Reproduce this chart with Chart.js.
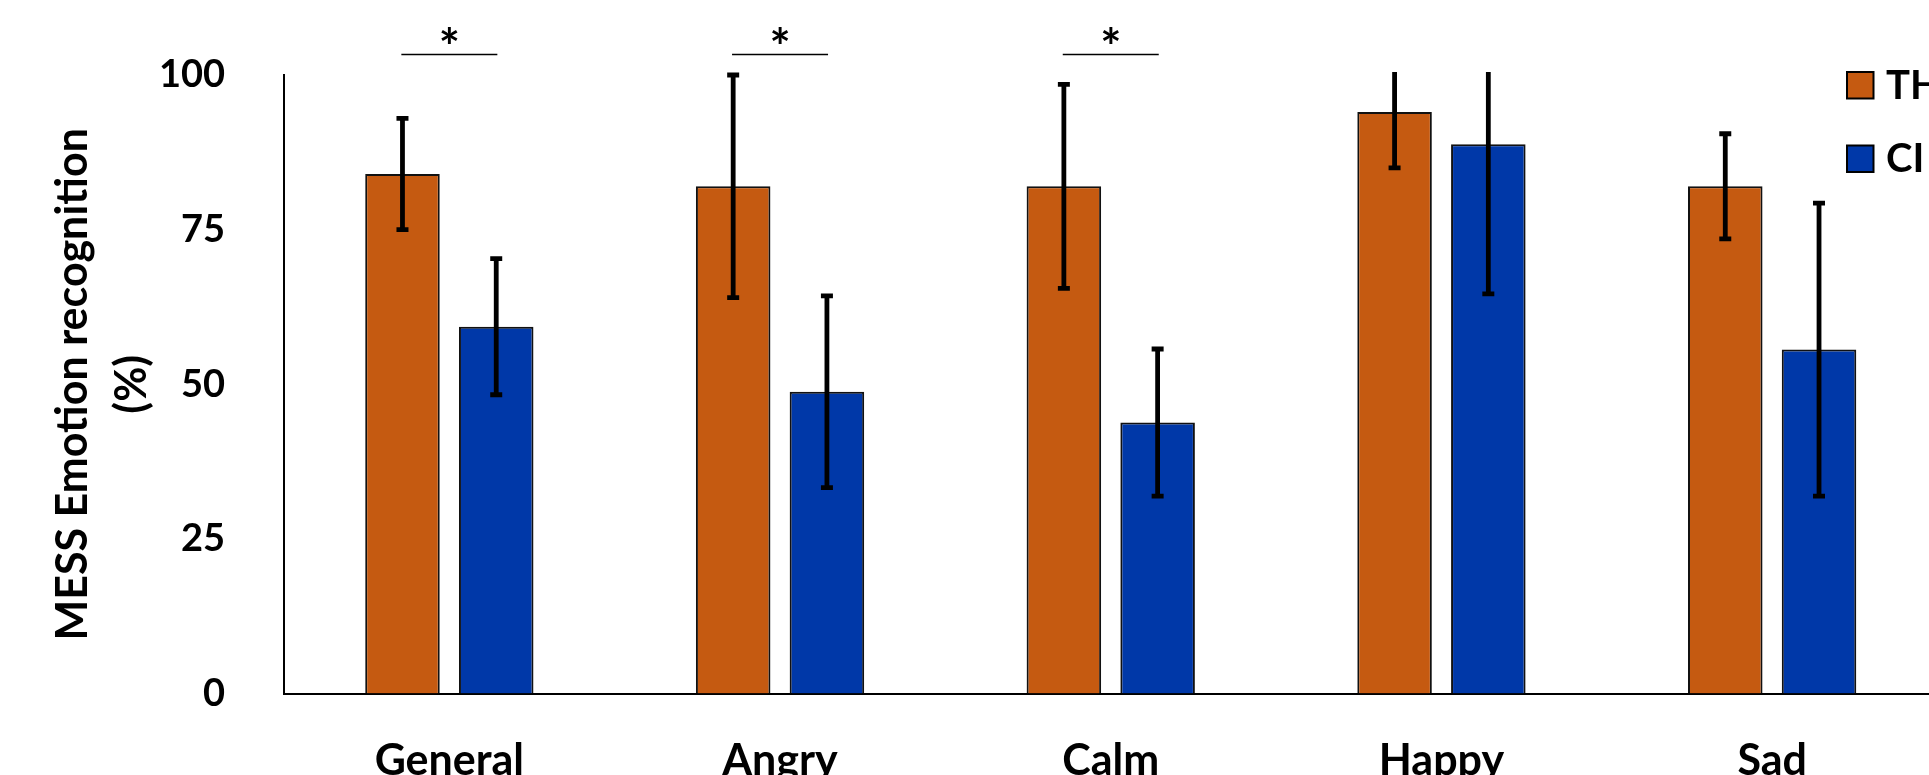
<!DOCTYPE html>
<html>
<head>
<meta charset="utf-8">
<script src="https://cdn.jsdelivr.net/npm/chart.js@4.4.1/dist/chart.umd.min.js"></script>
<style>
  html, body { margin: 0; padding: 0; background: #fff; overflow: hidden; }
  #wrap { width: 1960px; height: 775px; }
</style>
</head>
<body>
<div id="wrap"><canvas id="myChart" width="1960" height="775"></canvas></div>
<script>
// categories on the x axis
const categories = ['General', 'Angry', 'Calm', 'Happy', 'Sad'];
// group means and error bar half-lengths (%)
const thMeans = [84, 82, 82, 94, 82];
const thErrors = [9, 18, 16.5, 9, 8.5];
const ciMeans = [59.3, 48.8, 43.8, 88.8, 55.6];
const ciErrors = [11, 15.5, 11.9, 24.2, 23.7];
// y axis ticks
const yTicks = [0, 25, 50, 75, 100];
// categories marked with a star
const significant = ['General', 'Angry', 'Calm'];

Chart.defaults.font.family = 'Lato';
Chart.defaults.color = '#000';

// draws the whiskers on top of each bar
const errorBars = {
    id: 'errorBars',
    afterDatasetsDraw(chart) {
        const {ctx, chartArea, scales: {y}} = chart;
        ctx.save();
        ctx.beginPath();
        ctx.rect(chartArea.left, chartArea.top - 3, chartArea.width, chartArea.height + 3);
        ctx.clip();
        ctx.strokeStyle = '#000';
        ctx.lineWidth = 4.8;
        chart.data.datasets.forEach((ds, di) => {
            chart.getDatasetMeta(di).data.forEach((bar, i) => {
                const hi = y.getPixelForValue(ds.data[i] + ds.errors[i]);
                const lo = y.getPixelForValue(ds.data[i] - ds.errors[i]);
                ctx.beginPath();
                ctx.moveTo(bar.x, hi); ctx.lineTo(bar.x, lo);
                ctx.moveTo(bar.x - 6, hi); ctx.lineTo(bar.x + 6, hi);
                ctx.moveTo(bar.x - 6, lo); ctx.lineTo(bar.x + 6, lo);
                ctx.stroke();
            });
        });
        ctx.restore();
    }
};

// significance line + star above the pair
const sigMarks = {
    id: 'sigMarks',
    afterDraw(chart) {
        const {ctx, chartArea, scales: {x}} = chart;
        ctx.save();
        ctx.strokeStyle = '#000';
        ctx.lineWidth = 1.5;
        ctx.fillStyle = '#000';
        ctx.font = 'bold 50px Lato';
        ctx.textAlign = 'center';
        ctx.textBaseline = 'alphabetic';
        significant.forEach(cat => {
            const cx = x.getPixelForValue(categories.indexOf(cat));
            const ly = chartArea.top - 20.5;
            ctx.beginPath();
            ctx.moveTo(cx - 48, ly);
            ctx.lineTo(cx + 48, ly);
            ctx.stroke();
            ctx.fillText('*', cx, ly + 10);
        });
        ctx.restore();
    }
};

// legend sitting in the top right corner
const cornerLegend = {
    id: 'cornerLegend',
    afterDraw(chart) {
        const {ctx} = chart;
        ctx.save();
        ctx.font = 'bold 40px Lato';
        ctx.textBaseline = 'middle';
        ctx.textAlign = 'left';
        chart.data.datasets.forEach((ds, i) => {
            const top = 72 + i * 73.5;
            ctx.fillStyle = ds.backgroundColor;
            ctx.fillRect(1847, top, 26.5, 26.5);
            ctx.strokeStyle = '#000';
            ctx.lineWidth = 2;
            ctx.strokeRect(1847, top, 26.5, 26.5);
            ctx.fillStyle = '#000';
            ctx.fillText(ds.label, 1886, top + 14);
        });
        ctx.restore();
    }
};

const ctx = document.getElementById('myChart');
const myChart = new Chart(ctx, {
    type: 'bar',
    data: {
        labels: categories,
        datasets: [
            {
                label: 'TH',
                data: thMeans,
                errors: thErrors,
                backgroundColor: '#C55A11',
                borderColor: '#111',
                borderWidth: 2,
                categoryPercentage: 0.567,
                barPercentage: 0.795
            },
            {
                label: 'CI',
                data: ciMeans,
                errors: ciErrors,
                backgroundColor: '#0038A8',
                borderColor: '#111',
                borderWidth: 2,
                categoryPercentage: 0.567,
                barPercentage: 0.795
            }
        ]
    },
    options: {
        responsive: false,
        animation: false,
        layout: { padding: { left: 0, top: 75, right: 22.5, bottom: 0 } },
        plugins: {
            legend: { display: false },
            tooltip: { enabled: false }
        },
        scales: {
            x: {
                grid: { display: false },
                border: { display: true, color: '#000', width: 2 },
                ticks: { font: { size: 43, weight: 'bold' }, padding: 34 },
                afterFit(scale) { scale.height = 81.5; }
            },
            y: {
                min: 0,
                max: 100,
                afterBuildTicks(scale) { scale.ticks = yTicks.map(v => ({ value: v })); },
                grid: { display: false },
                border: { display: true, color: '#000', width: 2 },
                ticks: { font: { size: 38, weight: 'bold' }, padding: 51 },
                title: {
                    display: true,
                    text: ['MESS Emotion recognition', '(%)'],
                    font: { size: 43, weight: 'bold', lineHeight: 1.379 },
                    padding: { top: 43, bottom: 0 }
                },
                afterFit(scale) { scale.width = 284; }
            }
        }
    },
    plugins: [errorBars, sigMarks, cornerLegend]
});
</script>
</body>
</html>
